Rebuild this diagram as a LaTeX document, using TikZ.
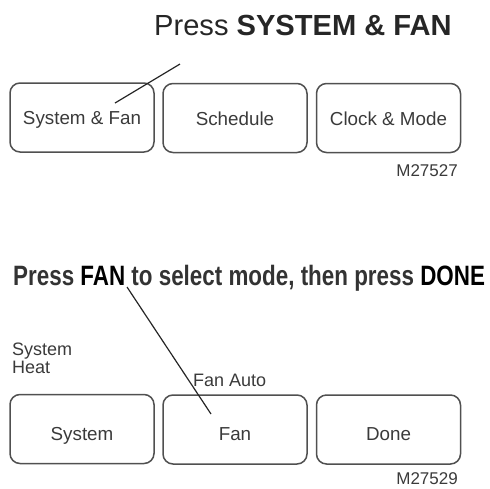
\documentclass[tikz,border=0pt]{standalone}
\usepackage{fontspec}
\setmainfont{Liberation Sans}
\usepackage{graphicx}
\definecolor{keygray}{HTML}{505050}
\definecolor{textgray}{HTML}{3A3A3A}
\tikzset{
  key/.style={draw=keygray, line width=1.5pt, rounded corners=10pt,
    minimum width=144pt, minimum height=69pt, inner sep=0pt,
    text height=14pt, text depth=0pt,
    text=textgray, font=\fontsize{18.8}{20}\selectfont},
  keylow/.style={key, text height=22pt},
  tag/.style={text=textgray, inner sep=0pt, anchor=base east,
    font=\fontsize{17}{19}\selectfont},
  state/.style={text=textgray, inner sep=0pt, anchor=base west, align=left,
    font=\fontsize{18}{18}\selectfont},
  pointer/.style={draw=black!85, line width=1.2pt}
}
\begin{document}
\begin{tikzpicture}[x=1pt, y=-1pt]
    \useasboundingbox (0,0) rectangle (490,488);

    % step 1
    \node (title1) [anchor=base west, inner sep=0pt, text=black!85,
      font=\fontsize{29.1}{31}\selectfont] at (154,35) {Press \textbf{SYSTEM \& FAN}};
    \node (sysfan) [key] at (82,117.5) {System \& Fan};
    \node (sched) [key] at (235,118) {Schedule};
    \node (clock) [key] at (388.5,118) {Clock \& Mode};
    \node (code1) [tag] at (458,176) {M27527};
    \coordinate (p1a) at (180,64);
    \coordinate (p1b) at (115,103);
    \draw[pointer] (p1a) -- (p1b);

    % step 2
    \node (title2) [anchor=base west, inner sep=0pt, text=black!80,
      font=\fontsize{28}{30}\selectfont\bfseries] at (13,285)
      {\scalebox{0.80}[1]{Press \textcolor{black}{FAN} to select mode, then press \textcolor{black}{DONE}}};
    \node (sysheat) [state] at (12,373) {System\\Heat};
    \node (fanauto) [state] at (193,386) {Fan Auto};
    \node (system) [keylow] at (82,429) {System};
    \node (fan) [keylow] at (235,429.5) {Fan};
    \node (done) [keylow] at (388.5,429.5) {Done};
    \node (code2) [tag] at (458,484) {M27529};
    \coordinate (p2a) at (127,287);
    \coordinate (p2b) at (211,414);
    \draw[pointer] (p2a) -- (p2b);
\end{tikzpicture}
\end{document}
